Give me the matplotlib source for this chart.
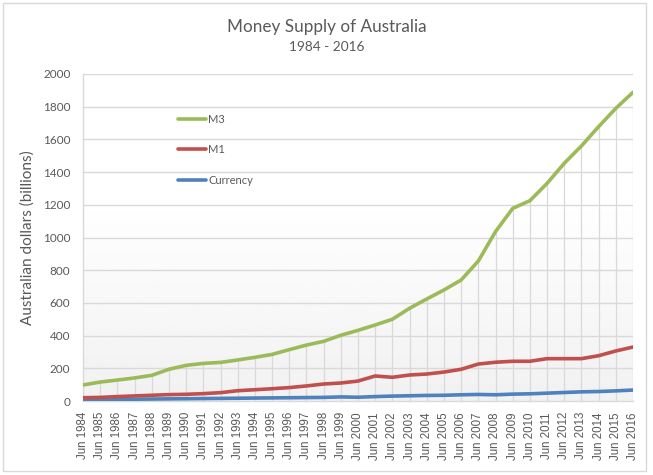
import matplotlib
matplotlib.use('Agg')
import matplotlib.pyplot as plt
import numpy as np
from matplotlib.lines import Line2D
from matplotlib.patches import Rectangle

plt.rcParams['font.family'] = ['Lato', 'DejaVu Sans']

years = list(range(1984, 2017))
labels = ['Jun %d' % y for y in years]

m3 = [98, 116, 128, 141, 157, 194, 218, 230, 236, 251, 267, 285, 314, 342, 365, 402,
      432, 465, 500, 567, 624, 679, 740, 856, 1036, 1178, 1225, 1331, 1454, 1560,
      1678, 1790, 1888]
m1 = [20, 22, 27, 31, 35, 39, 41, 45, 51, 63, 69, 75, 82, 92, 104, 110,
      122, 153, 145, 159, 165, 177, 194, 226, 237, 243, 243, 259, 259, 259,
      277, 306, 330]
currency = [8, 9, 10, 11, 12, 13, 14, 15, 16, 17, 18, 19, 20, 21, 22, 25,
            23, 27, 30, 32, 34, 35, 38, 40, 38, 42, 44, 48, 52, 56,
            58, 62, 67]

grey = '#595959'
gridc = '#d9d9d9'

fig = plt.figure(figsize=(6.53, 4.75), dpi=100)
fig.patch.set_facecolor('white')
fig.patches.append(Rectangle((0.005, 0.008), 0.985, 0.985, transform=fig.transFigure,
                             fill=False, edgecolor='#d9d9d9', linewidth=1))

ax = fig.add_axes([83 / 653, 1 - 401 / 475, 550 / 653, 327 / 475])
x = np.arange(len(years))

# gradient background
grad = np.linspace(0.945, 1.0, 256).reshape(-1, 1)
grad = np.clip((grad - 0.945) * 1.6 + 0.945, 0.945, 1.0)
ax.imshow(grad, cmap='gray', vmin=0, vmax=1, aspect='auto', origin='lower',
          extent=[0, 32, 0, 2000], zorder=0)

ax.set_xlim(0, 32)
ax.set_ylim(0, 2000)

for v in range(200, 2001, 200):
    ax.axhline(v, color=gridc, lw=1, zorder=1)
ax.vlines(x, 0, m3, color=gridc, lw=0.9, zorder=1)

ax.plot(x, currency, color='#4F81BD', lw=2.6, solid_capstyle='round', zorder=3, label='Currency')
ax.plot(x, m1, color='#C0504D', lw=2.6, solid_capstyle='round', zorder=3, label='M1')
ax.plot(x, m3, color='#9BBB59', lw=2.6, solid_capstyle='round', zorder=3, label='M3')

for s in ['top', 'right']:
    ax.spines[s].set_visible(False)
for s in ['left', 'bottom']:
    ax.spines[s].set_color(gridc)
    ax.spines[s].set_linewidth(1)

ax.set_yticks(range(0, 2001, 200))
ax.tick_params(axis='y', length=0, pad=9, labelsize=8.5, labelcolor=grey)
ax.set_xticks(x)
ax.set_xticklabels(labels, rotation=90, fontsize=8.3, color=grey, family='Liberation Sans')
ax.tick_params(axis='x', length=0, pad=8)

ax.set_ylabel('Australian dollars (billions)', fontsize=11, color=grey, labelpad=6)

handles = [Line2D([], [], color='#9BBB59', lw=2.6, solid_capstyle='round'),
           Line2D([], [], color='#C0504D', lw=2.6, solid_capstyle='round'),
           Line2D([], [], color='#4F81BD', lw=2.6, solid_capstyle='round')]
leg = ax.legend(handles, ['M3', 'M1', 'Currency'], loc='upper left',
                bbox_to_anchor=(0.163, 0.895), frameon=False, fontsize=8,
                handlelength=2.5, handletextpad=0.2, labelspacing=1.75, borderpad=0)
for t in leg.get_texts():
    t.set_color(grey)

fig.text(0.5, 1 - 27 / 475, 'Money Supply of Australia', ha='center', va='center',
         fontsize=12.3, color=grey)
fig.text(0.5, 1 - 47 / 475, '1984 - 2016', ha='center', va='center',
         fontsize=9.8, color=grey)

fig.savefig('out.png', dpi=100, facecolor='white')
